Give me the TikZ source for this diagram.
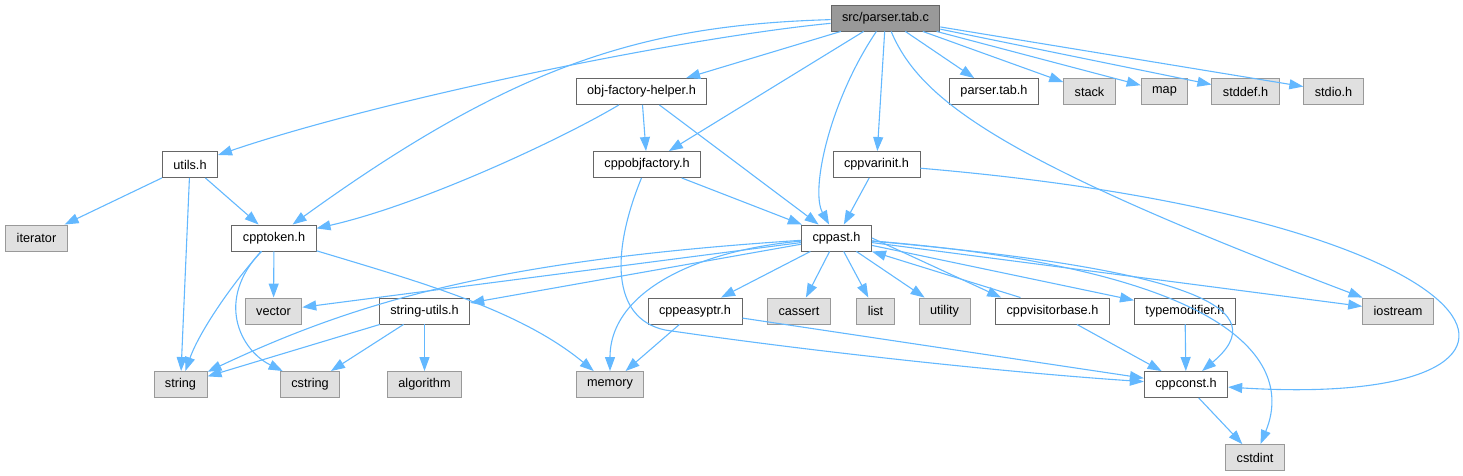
\documentclass[tikz,border=0pt]{standalone}
\usepackage{fontspec}
\setmainfont{Liberation Sans}
\usepackage{tikz}
\usetikzlibrary{arrows.meta,positioning}
\definecolor{EdgeBlue}{HTML}{63B8FF}
\definecolor{BoxLine}{HTML}{666666}
\definecolor{SysLine}{HTML}{999999}
\definecolor{SysFill}{HTML}{E0E0E0}
\definecolor{RootFill}{HTML}{999999}

\begin{document}
\begin{tikzpicture}[font=\fontsize{12.7}{15}\selectfont, >={Triangle[length=14pt,width=10pt]}, x=1pt, y=1pt]
\tikzset{hdr/.style={draw=BoxLine, fill=white, line width=.9pt, inner xsep=11pt, inner ysep=0pt, minimum height=26pt}, sys/.style={hdr, draw=SysLine, fill=SysFill}, root/.style={hdr, fill=RootFill}, dep/.style={->, draw=EdgeBlue, line width=1.1pt}}
\useasboundingbox (0,0) rectangle (1463,476);
\node[root] (src) at (885.5,458) {src/parser.tab.c};
\foreach \name/\x/\y/\label in {objfh/641.5/384.5/obj-factory-helper.h,ptabh/994/384.5/parser.tab.h,utils/190/311.5/utils.h,objfact/647/311.5/cppobjfactory.h,varinit/876.5/311.5/cppvarinit.h,cpptoken/274/238/cpptoken.h,cppast/836.5/238/cppast.h,strutils/424.5/165/string-utils.h,easyptr/695/165/cppeasyptr.h,visitor/1052.5/165/cppvisitorbase.h,typemod/1185/165/typemodifier.h,cppconst/1186/91.5/cppconst.h} {
  \node[hdr] (\name) at (\x,\y) {\label};
}
\foreach \name/\x/\y/\label in {stack/1089.5/384.5/stack,map/1164.5/384.5/map,stddef/1245.5/384.5/stddef.h,stdio/1333.5/384.5/stdio.h,iterator/36.5/238/iterator,vector/273.5/165/vector,cassert/799/165/cassert,list/875.5/165/list,utility/944.5/165/utility,iostream/1398/165/iostream,string/180.5/91.5/string,cstring/310/91.5/cstring,algorithm/424.5/91.5/algorithm,memory/610/91.5/memory,cstdint/1255/18.5/cstdint} {
  \node[sys] (\name) at (\x,\y) {\label};
}
\foreach \a/\b in {src/objfh,src/objfact,src/varinit,src/ptabh,src/stack,src/map,src/stddef,src/stdio,utils/iterator,utils/string,utils/cpptoken,objfh/objfact,objfh/cppast,objfact/cppast,varinit/cppast,cpptoken/vector,cppast/vector,cppast/strutils,cppast/easyptr,cppast/cassert,cppast/list,cppast/utility,cppast/typemod,cppast/iostream,strutils/string,strutils/cstring,strutils/algorithm,easyptr/memory,easyptr/cppconst,visitor/cppconst,typemod/cppconst,cppconst/cstdint} {
  \draw[dep] (\a) -- (\b);
}
\draw[dep] (cppast.east) -- ([xshift=6pt]visitor.north west);
\draw[dep] ([xshift=-32pt]visitor.north) -- (cppast.south east);
\draw[dep] (src) .. controls (680,438) and (380,376) .. (utils);
\draw[dep] (src) .. controls (650,451) and (520,416) .. (cpptoken);
\draw[dep] (objfh) .. controls (560,336) and (420,271) .. (cpptoken);
\draw[dep] (src) .. controls (830,376) and (810,286) .. (cppast);
\draw[dep] (src) .. controls (920,376) and (1000,316) .. (iostream);
\draw[dep] (varinit) .. controls (1530,256) and (1600,66) .. (cppconst);
\draw[dep] (objfact) .. controls (612,226) and (610,158) .. (665,146) .. controls (800,126) and (1000,104) .. (cppconst);
\draw[dep] (cpptoken) .. controls (420,194) and (520,166) .. (memory);
\draw[dep] (cppast) .. controls (500,216) and (360,176) .. (string);
\draw[dep] (cppast) .. controls (700,226) and (610,186) .. (memory);
\draw[dep] (cppast) .. controls (1200,206) and (1275,166) .. (cppconst);
\draw[dep] (cppast) .. controls (1230,206) and (1295,116) .. (cstdint);
\draw[dep] (cpptoken) .. controls (235,196) and (200,146) .. (string);
\draw[dep] (cpptoken) .. controls (215,176) and (240,126) .. (cstring);
\end{tikzpicture}
\end{document}
